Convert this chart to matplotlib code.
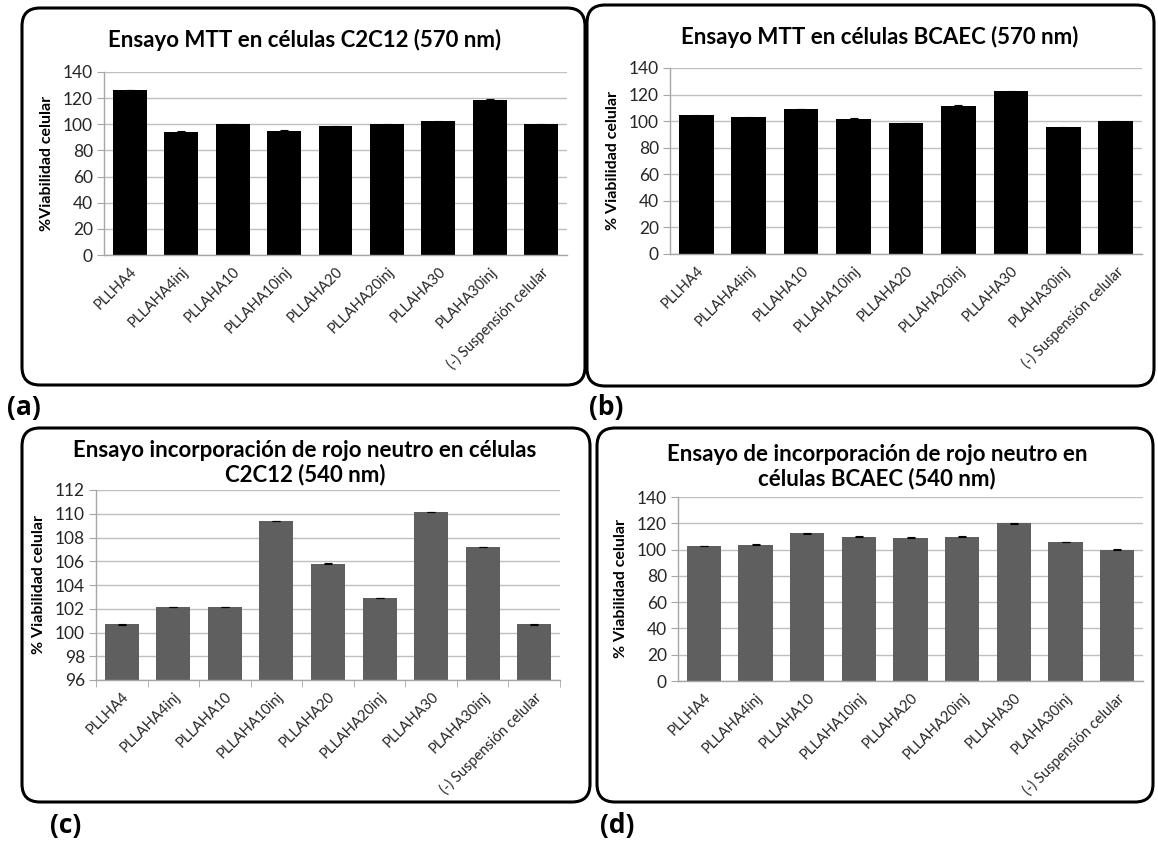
import matplotlib
matplotlib.use("Agg")
import matplotlib.pyplot as plt
from matplotlib.patches import FancyBboxPatch
import numpy as np

plt.rcParams['font.family'] = ['Lato', 'DejaVu Sans']

categories = ["PLLHA4", "PLLAHA4inj", "PLLAHA10", "PLLAHA10inj", "PLLAHA20",
              "PLLAHA20inj", "PLLAHA30", "PLAHA30inj", "(-) Suspensión celular"]

mtt_c2c12 = [126.2, 94.4, 100.0, 94.9, 98.4, 100.0, 102.3, 118.9, 100.0]
mtt_c2c12_err = [0.3, 0.4, 0.5, 0.4, 0.3, 0.3, 0.5, 0.5, 0.4]

mtt_bcaec = [104.5, 102.8, 109.1, 101.6, 98.3, 111.3, 122.4, 95.3, 99.9]
mtt_bcaec_err = [0.3, 0.5, 0.3, 0.5, 0.5, 0.5, 0.5, 0.3, 0.3]

rn_c2c12 = [100.7, 102.15, 102.15, 109.4, 105.8, 102.9, 110.15, 107.2, 100.7]
rn_c2c12_err = [0.03, 0.03, 0.03, 0.02, 0.03, 0.03, 0.02, 0.03, 0.03]

rn_bcaec = [102.7, 103.8, 112.4, 109.9, 109.1, 109.9, 120.1, 105.7, 100.0]
rn_bcaec_err = [0.3, 0.4, 0.3, 0.3, 0.3, 0.3, 0.4, 0.3, 0.3]

W, H = 1158, 842
fig = plt.figure(figsize=(W / 100, H / 100), dpi=100)

# background overlay for rounded boxes and panel labels (pixel coords)
bg = fig.add_axes([0, 0, 1, 1], zorder=-1)
bg.set_xlim(0, W)
bg.set_ylim(H, 0)
bg.axis('off')

boxes = [(22, 8, 563, 377), (587, 5, 567, 381), (22, 428, 568, 374), (597, 428, 556, 374)]
for (x, y, w, h) in boxes:
    bg.add_patch(FancyBboxPatch((x, y), w, h, boxstyle="round,pad=0,rounding_size=18",
                                fill=False, edgecolor='black', linewidth=2.2))

for lbl, (x, y) in zip(["(a)", "(b)", "(c)", "(d)"], [(7, 407), (589, 407), (50, 826), (600, 826)]):
    bg.text(x, y, lbl, fontsize=19, fontweight='bold', va='center', ha='left',
            family=['Open Sans', 'DejaVu Sans'])


def px_rect(l, r, t, b):
    return [l / W, 1 - b / H, (r - l) / W, (b - t) / H]


panels = [
    dict(rect=px_rect(104, 567, 72, 255), vals=mtt_c2c12, err=mtt_c2c12_err, color='black',
         ylim=(0, 140), step=20, title="Ensayo MTT en células C2C12 (570 nm)",
         ylabel="%Viabilidad celular", ticks=False, title_xy=(305, 40)),
    dict(rect=px_rect(670, 1142, 68, 254), vals=mtt_bcaec, err=mtt_bcaec_err, color='black',
         ylim=(0, 140), step=20, title="Ensayo MTT en células BCAEC (570 nm)",
         ylabel="% Viabilidad celular", ticks=False, title_xy=(880, 37)),
    dict(rect=px_rect(96, 560, 490, 680), vals=rn_c2c12, err=rn_c2c12_err, color='#5f5f5f',
         ylim=(96, 112), step=2,
         title="Ensayo incorporación de rojo neutro en células\nC2C12 (540 nm)",
         ylabel="% Viabilidad celular", ticks=True, title_xy=(305, 463)),
    dict(rect=px_rect(678, 1143, 497, 681), vals=rn_bcaec, err=rn_bcaec_err, color='#5f5f5f',
         ylim=(0, 140), step=20,
         title="Ensayo de incorporación de rojo neutro en\ncélulas BCAEC (540 nm)",
         ylabel="% Viabilidad celular", ticks=False, title_xy=(877, 467)),
]

x = np.arange(len(categories))
for p in panels:
    ax = fig.add_axes(p['rect'])
    ax.bar(x, p['vals'], width=0.66, color=p['color'], zorder=2,
           yerr=p['err'], error_kw=dict(ecolor='black', elinewidth=0.8, capsize=3, capthick=0.8))
    ax.set_xlim(-0.5, len(categories) - 0.5)
    ax.set_ylim(*p['ylim'])
    ax.set_yticks(np.arange(p['ylim'][0], p['ylim'][1] + 0.1, p['step']))
    ax.grid(axis='y', color='#bfbfbf', linewidth=1.0, zorder=0)
    ax.set_axisbelow(True)
    for s in ['top', 'right']:
        ax.spines[s].set_visible(False)
    for s in ['left', 'bottom']:
        ax.spines[s].set_color('#a6a6a6')
        ax.spines[s].set_linewidth(1.0)
    ax.tick_params(axis='y', length=5, color='#a6a6a6', labelsize=12.5, labelcolor='#262626', pad=3)
    ax.set_xticks(x)
    ax.set_xticklabels(categories, rotation=45, ha='right', rotation_mode='anchor',
                       fontsize=10.5, color='#262626')
    if p['ticks']:
        ax.tick_params(axis='x', length=0, pad=7)
        ax.set_xticks(np.arange(-0.5, len(categories), 1.0), minor=True)
        ax.tick_params(axis='x', which='minor', length=5, color='#a6a6a6')
    else:
        ax.tick_params(axis='x', length=0, pad=7)
    ax.set_ylabel(p['ylabel'], fontsize=11.5, fontweight='bold', labelpad=6)
    fig.text(p['title_xy'][0] / W, 1 - p['title_xy'][1] / H, p['title'], fontsize=16,
             fontweight='bold', ha='center', va='center', linespacing=1.15)

fig.savefig("out.png", dpi=100)
